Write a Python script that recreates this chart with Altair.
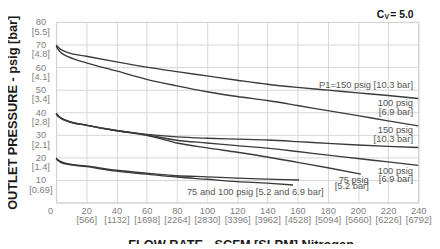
import altair as alt
import pandas as pd

# ---- data ----
series_names = ["A", "B", "C", "D", "E", "F", "G"]
series_x = {
    "A": [0, 1, 3, 8, 20, 40, 60, 80, 100, 120, 140, 160, 180, 200, 220, 240],
    "B": [0, 1, 3, 8, 20, 40, 60, 80, 100, 120, 140, 160, 180, 200, 220, 240],
    "C": [0, 1, 3, 8, 20, 40, 60, 80, 100, 120, 140, 160, 180, 200, 220, 240],
    "D": [0, 1, 3, 8, 20, 40, 60, 80, 100, 120, 140, 160, 180, 200, 220, 240],
    "E": [0, 1, 3, 8, 20, 40, 60, 80, 100, 120, 140, 160, 180, 202],
    "F": [0, 1, 3, 8, 20, 40, 60, 80, 100, 120, 140, 161],
    "G": [0, 1, 3, 8, 20, 40, 60, 80, 100, 120, 140, 157],
}
series_y = {
    "A": [69.8, 69.0, 67.9, 66.4, 64.8, 62.3, 60.0, 58.0, 56.1, 54.2, 52.4, 51.0, 49.8, 48.6, 47.4, 46.1],
    "B": [69.2, 68.2, 66.6, 64.6, 61.9, 58.3, 54.6, 51.7, 49.1, 47.0, 45.2, 43.0, 40.7, 38.5, 36.2, 34.0],
    "C": [39.6, 38.8, 37.6, 36.1, 34.3, 31.9, 30.2, 29.1, 28.5, 28.1, 27.7, 27.0, 26.2, 25.5, 24.9, 24.4],
    "D": [39.4, 38.6, 37.5, 36.0, 34.3, 31.9, 30.0, 27.6, 26.4, 25.2, 24.1, 22.6, 21.0, 19.5, 18.0, 16.5],
    "E": [39.2, 38.4, 37.4, 35.9, 34.2, 31.8, 29.8, 26.4, 24.2, 22.3, 20.2, 17.8, 15.4, 12.6],
    "F": [19.8, 19.1, 18.2, 17.2, 16.2, 14.3, 13.0, 11.9, 11.4, 10.8, 10.4, 10.0],
    "G": [19.4, 18.7, 17.8, 16.9, 15.9, 13.9, 12.6, 11.3, 10.3, 9.3, 8.6, 7.8],
}

x_ticks = [0, 20, 40, 60, 80, 100, 120, 140, 160, 180, 200, 220, 240]
x_slpm = ["", "[566]", "[1132]", "[1698]", "[2264]", "[2830]", "[3396]", "[3962]",
          "[4528]", "[5094]", "[5660]", "[6226]", "[6792]"]
y_ticks = [10, 20, 30, 40, 50, 60, 70, 80]
y_bar = ["", "[0.69]", "[1.4]", "[2.1]", "[2.8]", "[3.4]", "[4.1]", "[4.8]", "[5.5]"]

ann_text = ["P1=150 psig [10.3 bar]", "100 psig", "[6.9 bar]", "150 psig", "[10.3 bar]",
            "100 psig", "[6.9 bar]", "75 psig", "[5.2 bar]", "75 and 100 psig [5.2 and 6.9 bar]"]
ann_x = [236.5, 236.5, 236.5, 236.5, 236.5, 236.5, 236.5, 197.2, 195.9, 132.0]
ann_y = [52.2, 44.0, 40.1, 32.2, 28.1, 13.9, 10.6, 10.1, 7.1, 4.8]
ann_align = ["right", "right", "right", "right", "right", "right", "right", "center", "center", "center"]

rows = []
for s in series_names:
    for xv, yv in zip(series_x[s], series_y[s]):
        rows.append({"series": s, "flow": xv, "pressure": yv})
df = pd.DataFrame(rows)

ann = pd.DataFrame({"text": ann_text, "x": ann_x, "y": ann_y, "align": ann_align})

x_expr = ("datum.value == 0 ? '0' : [datum.label, "
          + "[" + ",".join("'" + s + "'" for s in x_slpm) + "][round(datum.value/20)]]")
y_expr = ("[datum.label, "
          + "[" + ",".join("'" + s + "'" for s in y_bar) + "][round(datum.value/10)]]")

FONT = "Liberation Sans"

xscale = alt.Scale(domain=[0, 240], nice=False, zero=False)
yscale = alt.Scale(domain=[0, 80], nice=False)

x_axis = alt.Axis(
    values=x_ticks, grid=True, gridColor="#d6d6d6", domain=False, ticks=False, tickSize=0,
    labelExpr=x_expr, labelFont=FONT, labelFontSize=9.5, labelColor="#808080",
    labelPadding=3, labelLineHeight=9, labelFlush=False, labelOverlap=False,
    labelOffset={"condition": {"test": "datum.value == 0", "value": -6}, "value": 0},
    title="FLOW RATE - SCFM [SLPM] Nitrogen", titleFont=FONT, titleFontSize=13,
    titleFontWeight="bold", titleColor="#1a1a1a", titleX=188, titleY=47,
    titleBaseline="alphabetic", titleAlign="center")
y_axis = alt.Axis(
    values=y_ticks, grid=True, gridColor="#d6d6d6", domain=False, ticks=False, tickSize=0,
    labelExpr=y_expr, labelFont=FONT, labelFontSize=9.5, labelColor="#808080",
    labelAlign="center", labelBaseline="top", labelOffset=-5, labelPadding=16,
    labelLineHeight=9.5, labelFlush=False, labelOverlap=False,
    title="OUTLET PRESSURE - psig [bar]", titleFont=FONT, titleFontSize=13,
    titleFontWeight="bold", titleColor="#1a1a1a", titleAngle=-90, titleX=-40,
    titleY=92, titleAlign="center", titleBaseline="alphabetic")


def tx(field):
    return alt.X(field, scale=xscale, axis=x_axis, title="FLOW RATE - SCFM [SLPM] Nitrogen")


def ty(field):
    return alt.Y(field, scale=yscale, axis=y_axis, title="OUTLET PRESSURE - psig [bar]")


lines = alt.Chart(df).mark_line(
    interpolate="monotone", color="#3a3a3a", strokeWidth=1.4
).encode(x=tx("flow:Q"), y=ty("pressure:Q"), detail="series:N")

labels_right = alt.Chart(ann).transform_filter("datum.align == 'right'").mark_text(
    font=FONT, fontSize=9.5, color="#555555", baseline="middle", align="right"
).encode(x=tx("x:Q"), y=ty("y:Q"), text="text:N")

labels_center = alt.Chart(ann).transform_filter("datum.align == 'center'").mark_text(
    font=FONT, fontSize=9.5, color="#555555", baseline="middle", align="center"
).encode(x=tx("x:Q"), y=ty("y:Q"), text="text:N")

cv_c = pd.DataFrame({"x": [217.4], "y": [83.0], "t": ["C"]})
cv_v = pd.DataFrame({"x": [217.7], "y": [82.1], "t": ["V"]})
cv_n = pd.DataFrame({"x": [221.5], "y": [83.0], "t": ["= 5.0"]})

cv1 = alt.Chart(cv_c).mark_text(font=FONT, fontSize=10.5, fontWeight="bold", align="right",
                                baseline="middle", color="#111111", clip=False).encode(
    x=tx("x:Q"), y=ty("y:Q"), text="t:N")
cv2 = alt.Chart(cv_v).mark_text(font=FONT, fontSize=7, fontWeight="bold", align="left",
                                baseline="middle", color="#111111", clip=False).encode(
    x=tx("x:Q"), y=ty("y:Q"), text="t:N")
cv3 = alt.Chart(cv_n).mark_text(font=FONT, fontSize=10.5, fontWeight="bold", align="left",
                                baseline="middle", color="#111111", clip=False).encode(
    x=tx("x:Q"), y=ty("y:Q"), text="t:N")

chart = alt.layer(lines, labels_right, labels_center, cv1, cv2, cv3).properties(
    width=369, height=184,
    autosize=alt.AutoSizeParams(type="none"),
    padding={"left": 49, "top": 12, "right": 14, "bottom": 40},
    background="white",
).configure_view(stroke="#bdbdbd", strokeWidth=1)

chart.save("out.html", embed_options={"renderer": "svg", "actions": False})
